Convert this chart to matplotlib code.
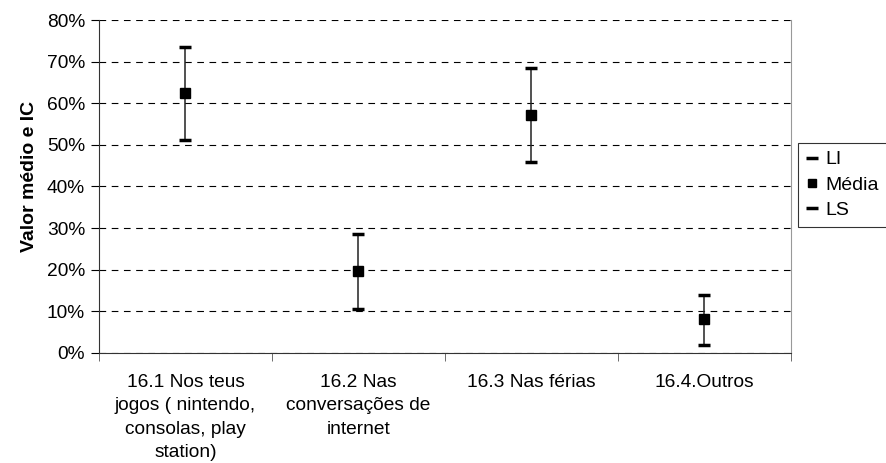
import matplotlib
matplotlib.use('Agg')
import matplotlib.pyplot as plt
from matplotlib.lines import Line2D
from matplotlib.ticker import PercentFormatter, FixedLocator, NullFormatter
import numpy as np

plt.rcParams['font.family'] = ['Liberation Sans', 'DejaVu Sans']

categorias = ['16.1 Nos teus\njogos ( nintendo,\nconsolas, play\nstation)',
              '16.2 Nas\nconversações de\ninternet',
              '16.3 Nas férias',
              '16.4.Outros']
li = [51.2, 10.6, 45.9, 1.9]
media = [62.5, 19.7, 57.2, 8.2]
ls = [73.5, 28.6, 68.5, 13.9]

fig = plt.figure(figsize=(8.86, 4.63), dpi=100)
ax = fig.add_axes([0.1117, 0.2376, 0.7810, 0.7192])

x = np.arange(len(categorias))
ax.vlines(x, li, ls, color='#222222', lw=1.1, zorder=3)
ax.plot(x, li, ls='none', marker='_', ms=9, mew=2.5, color='black', zorder=4)
ax.plot(x, ls, ls='none', marker='_', ms=9, mew=2.5, color='black', zorder=4)
ax.plot(x, media, ls='none', marker='s', ms=7, color='black', zorder=5)

ax.set_xlim(-0.5, len(categorias) - 0.5)
ax.set_ylim(0, 80)
ax.set_yticks(np.arange(0, 81, 10))
ax.yaxis.set_major_formatter(PercentFormatter(decimals=0))
ax.grid(axis='y', color='black', ls=(0, (6, 5)), lw=0.8)

ax.set_xticks(x)
ax.set_xticklabels(categorias, fontsize=13.8, va='top', linespacing=1.5)
ax.tick_params(axis='x', length=0, pad=15)
ax.xaxis.set_minor_locator(FixedLocator(np.arange(-0.5, len(categorias), 1)))
ax.xaxis.set_minor_formatter(NullFormatter())
ax.tick_params(axis='x', which='minor', length=6, color='#555555')
ax.tick_params(axis='y', labelsize=13.8, length=6, pad=4, direction='out')

ax.spines['top'].set_visible(False)
ax.spines['right'].set_color('#999999')
ax.spines['left'].set_color('#333333')
ax.spines['bottom'].set_color('#333333')

ax.set_ylabel('Valor médio e IC', fontsize=14, fontweight='bold', labelpad=6)
ax.yaxis.label.set_y(0.53)

handles = [Line2D([], [], ls='none', marker='_', ms=8, mew=2.5, color='black'),
           Line2D([], [], ls='none', marker='s', ms=6, color='black'),
           Line2D([], [], ls='none', marker='_', ms=8, mew=2.5, color='black')]
leg = fig.legend(handles, ['LI', 'Média', 'LS'], loc='upper left',
                 bbox_to_anchor=(798 / 886, 1 - 143 / 463), frameon=True,
                 fancybox=False, edgecolor='black', fontsize=14,
                 handlelength=0.6, handletextpad=0.4, borderpad=0.4,
                 labelspacing=0.4, borderaxespad=0)
leg.get_frame().set_linewidth(0.8)

fig.savefig('out.png', dpi=100)
